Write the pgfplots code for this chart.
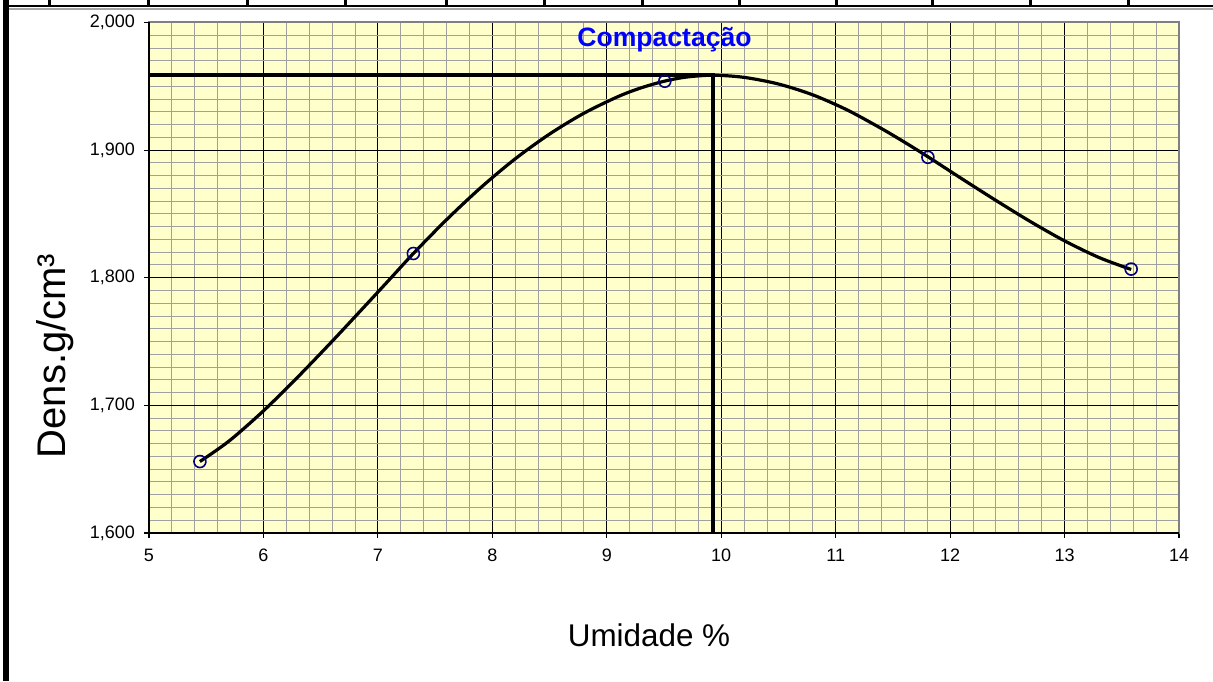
\documentclass[border=0pt]{standalone}
\usepackage{fontspec}
\setmainfont{Liberation Sans}
\usepackage{xcolor}
\usepackage{pgfplots}
\pgfplotsset{compat=1.18}

\definecolor{plotbg}{HTML}{FFFFCC}
\definecolor{minorgrid}{HTML}{A0A0A0}
\definecolor{markblue}{HTML}{000080}
\definecolor{titleblue}{HTML}{0000FF}

\begin{document}
\begin{tikzpicture}
% page frame (spreadsheet cell borders)
\path[use as bounding box, fill=white] (0,0) rectangle (606.5pt,340.5pt);
\fill[black] (1.65pt,0) rectangle (4.65pt,340.5pt);
\draw[black, line width=1.3pt] (4.65pt,337.5pt) -- (606.5pt,337.5pt);
\foreach \cx in {49,148,247,345,446,544,642,739,836,932,1030,1128}
  \draw[black, line width=1.5pt] (\cx*0.5pt,337.5pt) -- (\cx*0.5pt,340.5pt);
\draw[gray!70, line width=0.6pt] (4.65pt,336pt) -- (606.5pt,336pt);

\begin{axis}[
  at={(74.5pt,74pt)}, anchor=south west,
  scale only axis,
  width=515pt, height=255.25pt,
  xmin=5, xmax=14, ymin=1.6, ymax=2.0,
  xtick={5,6,...,14},
  ytick={1.6,1.7,1.8,1.9,2.0},
  minor x tick num=4,
  minor y tick num=9,
  grid=both,
  major grid style={black, line width=0.5pt},
  minor grid style={minorgrid, line width=0.5pt},
  axis background/.style={fill=plotbg},
  axis line style={draw=gray, line width=1pt},
  tick align=outside,
  major tick length=2.5pt,
  minor tick length=0pt,
  tick style={black, line width=0.6pt},
  xtick pos=bottom, ytick pos=left,
  /pgf/number format/assume math mode=true,
  ticklabel style={font=\fontsize{9}{10}\selectfont},
  yticklabel style={/pgf/number format/fixed, /pgf/number format/fixed zerofill,
    /pgf/number format/precision=3, /pgf/number format/use comma, xshift=-1pt},
  xticklabel style={yshift=-2pt},
  clip=false,
]
% fitted curve
\addplot[black, line width=1.6pt, smooth] coordinates {
  (5.445,1.656) (5.7,1.6721) (6.0,1.6957) (6.3,1.7222) (6.6,1.7502)
  (6.9,1.7791) (7.1,1.7985) (7.31,1.819) (7.6,1.8455) (7.9,1.8707)
  (8.2,1.8932) (8.5,1.9126) (8.8,1.9289) (9.1,1.9420) (9.3,1.9488)
  (9.507,1.9541) (9.7,1.9573) (9.93,1.9587) (10.2,1.9570) (10.5,1.9518)
  (10.8,1.9433) (11.1,1.9315) (11.4,1.9169) (11.6,1.9063) (11.806,1.8948)
  (12.1,1.8777) (12.4,1.8606) (12.7,1.8441) (13.0,1.8289) (13.3,1.8159)
  (13.582,1.8065)
};
% maximum density / optimum moisture
\addplot[black, line width=2pt] coordinates {(5,1.9586) (9.926,1.9586) (9.926,1.6)};
% measured points
\addplot[only marks, mark=o, mark size=3pt, mark options={draw=markblue, line width=0.8pt}]
  coordinates {(5.445,1.656) (7.31,1.819) (9.507,1.954) (11.806,1.8944) (13.582,1.8068)};
% axis lines: left and bottom in black
\draw[black, line width=0.8pt] (rel axis cs:0,1) -- (rel axis cs:0,0) -- (rel axis cs:1,0);
\end{axis}

\node[anchor=base, font=\fontsize{13.3}{15}\selectfont\bfseries, text=titleblue]
  at (332.25pt,317pt) {Compactação};
\node[anchor=base, rotate=90, font=\fontsize{20}{24}\selectfont]
  at (32.5pt,162.5pt) {Dens.g/cm³};
\node[anchor=base, font=\fontsize{15.7}{18}\selectfont]
  at (324.5pt,17.5pt) {Umidade \%};
\end{tikzpicture}
\end{document}
